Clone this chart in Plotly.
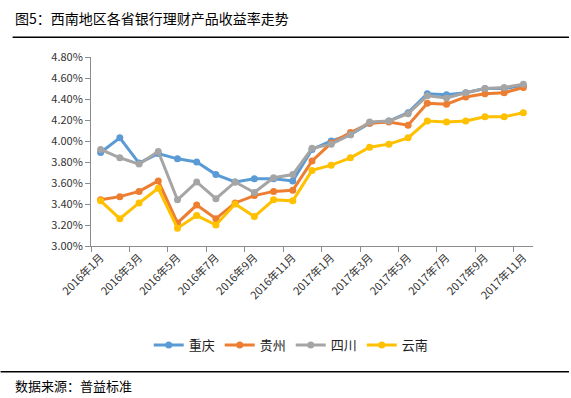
import plotly.graph_objects as go

months = [f"2016年{m}月" for m in range(1, 13)] + [f"2017年{m}月" for m in range(1, 12)]

chongqing = [3.89, 4.03, 3.79, 3.88, 3.83, 3.80, 3.68, 3.61, 3.64, 3.64, 3.62, 3.92,
             4.00, 4.06, 4.17, 4.19, 4.27, 4.45, 4.44, 4.46, 4.50, 4.50, 4.53]
guizhou = [3.44, 3.47, 3.52, 3.62, 3.22, 3.39, 3.26, 3.41, 3.48, 3.52, 3.53, 3.81,
           3.98, 4.08, 4.17, 4.18, 4.15, 4.36, 4.35, 4.42, 4.45, 4.46, 4.51]
sichuan = [3.92, 3.84, 3.78, 3.90, 3.44, 3.61, 3.45, 3.61, 3.51, 3.65, 3.68, 3.93,
           3.97, 4.06, 4.18, 4.19, 4.26, 4.43, 4.41, 4.46, 4.50, 4.51, 4.54]
yunnan = [3.43, 3.26, 3.41, 3.55, 3.17, 3.29, 3.20, 3.40, 3.28, 3.44, 3.43, 3.72,
          3.77, 3.84, 3.94, 3.97, 4.03, 4.19, 4.18, 4.19, 4.23, 4.23, 4.27]

series = [("重庆", chongqing, "#5B9BD5"), ("贵州", guizhou, "#ED7D31"),
          ("四川", sichuan, "#A5A5A5"), ("云南", yunnan, "#FFC000")]

FONT = "Noto Sans CJK SC"

fig = go.Figure()
for name, vals, color in series:
    fig.add_trace(go.Scatter(
        x=months, y=vals, name=name, mode="lines+markers",
        line=dict(color=color, width=3),
        marker=dict(color=color, size=7, symbol="circle"),
    ))

W, H = 571, 398
L, R, T, B = 90.5, 38, 57.3, 152
pw = W - L - R
ph = H - T - B

def px(x):
    return (x - L) / pw

def py(y):
    return (H - B - y) / ph

fig.update_layout(
    width=W, height=H,
    margin=dict(l=L, r=R, t=T, b=B),
    paper_bgcolor="white", plot_bgcolor="white",
    font=dict(family=FONT, color="#333333"),
    showlegend=True,
    legend=dict(orientation="h", xref="container", yref="container",
                x=0.51, xanchor="center", y=1 - 345 / H, yanchor="middle",
                font=dict(size=13, color="#222222", family=FONT),
                itemwidth=30, tracegroupgap=0),
    xaxis=dict(
        type="category", range=[-0.5, len(months) - 0.5],
        tickmode="linear", tick0=0, dtick=2, tickson="boundaries",
        ticks="outside", ticklen=5, tickcolor="#8C8C8C",
        showline=True, linecolor="#8C8C8C", linewidth=1,
        showgrid=False, tickangle=-45,
        tickfont=dict(size=11, color="#333333", family=FONT),
    ),
    yaxis=dict(
        range=[3.0, 4.8], dtick=0.2, tickformat=".2f", ticksuffix="%",
        ticks="outside", ticklen=5, tickcolor="#8C8C8C",
        showline=True, linecolor="#8C8C8C", linewidth=1,
        showgrid=False, zeroline=False,
        tickfont=dict(size=11, color="#333333", family=FONT),
    ),
    annotations=[
        dict(text="图5：西南地区各省银行理财产品收益率走势", xref="paper", yref="paper",
             x=px(12), y=py(18), xanchor="left", yanchor="middle", showarrow=False,
             font=dict(size=14, color="#000000", family=FONT)),
        dict(text="数据来源：普益标准", xref="paper", yref="paper",
             x=px(12), y=py(385), xanchor="left", yanchor="middle", showarrow=False,
             font=dict(size=13, color="#000000", family=FONT)),
    ],
    shapes=[
        dict(type="line", xref="paper", yref="paper", x0=px(12), x1=px(569),
             y0=py(37.5), y1=py(37.5), line=dict(color="black", width=1.5)),
        dict(type="line", xref="paper", yref="paper", x0=px(0), x1=px(569),
             y0=py(371.5), y1=py(371.5), line=dict(color="black", width=1.5)),
    ],
)

fig.write_html("out.html",
               config={"displayModeBar": False},
               post_script="document.body.style.margin='0';document.body.style.padding='0';")
